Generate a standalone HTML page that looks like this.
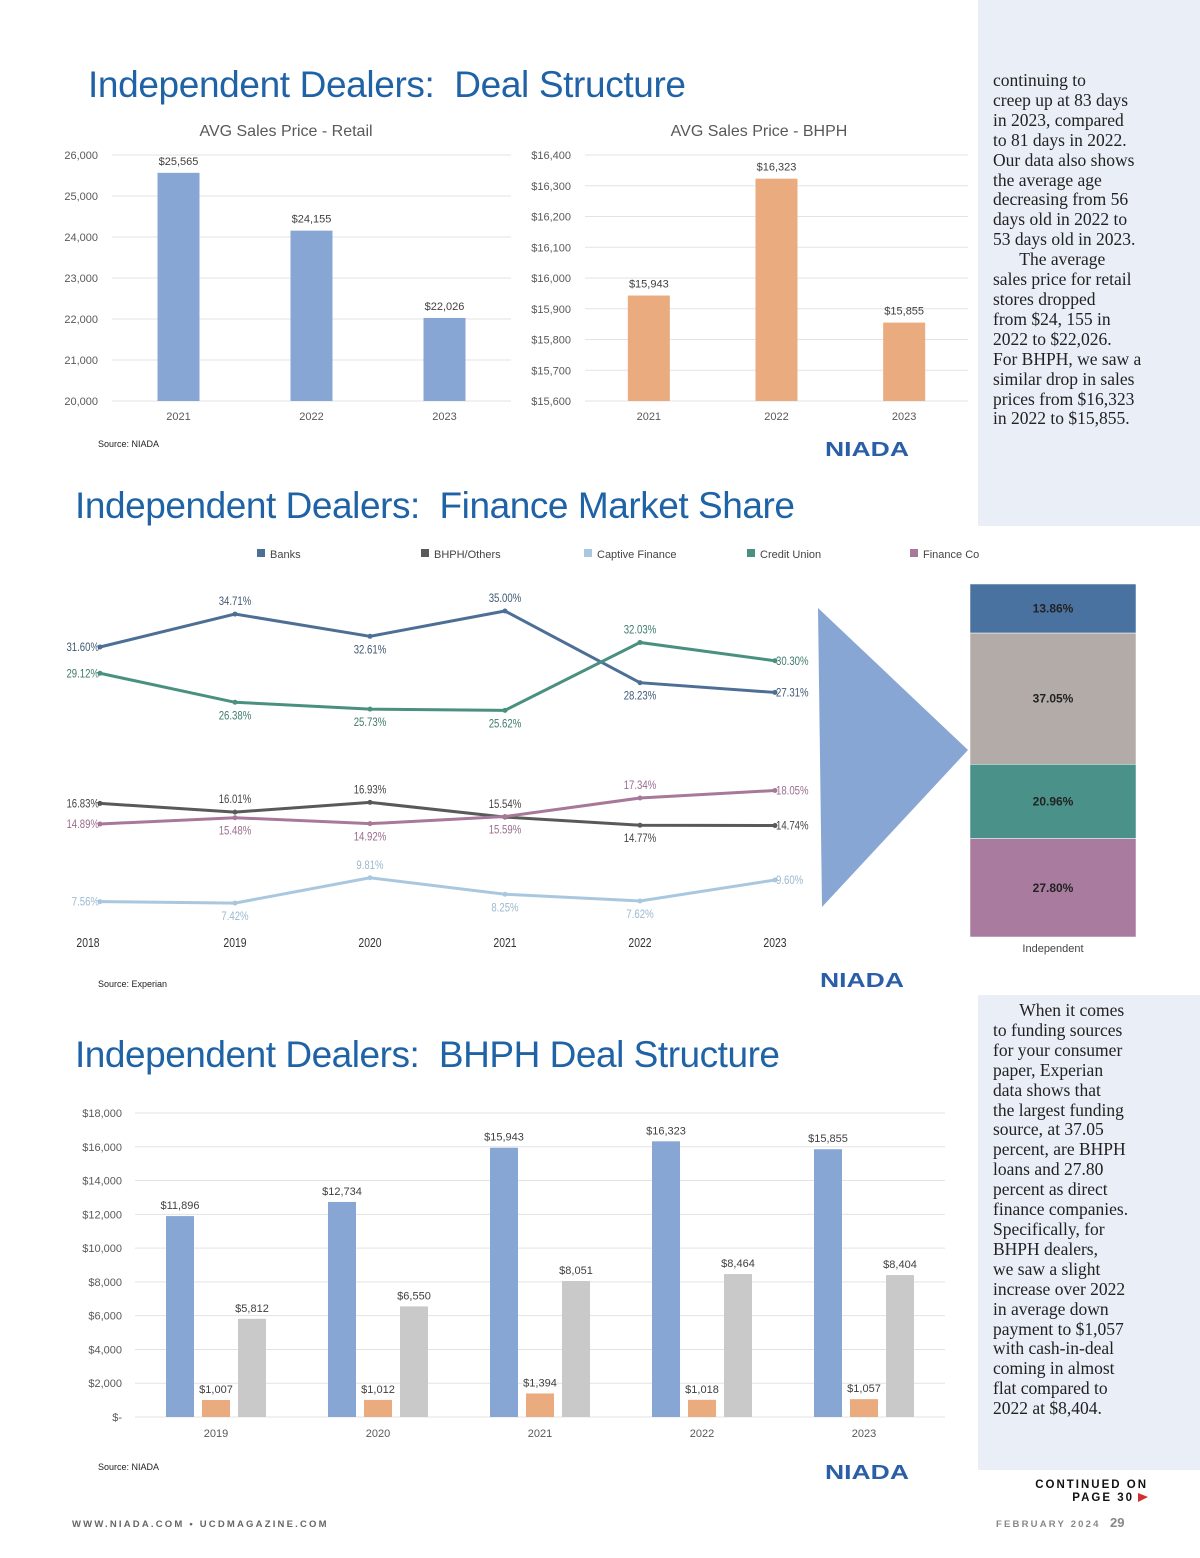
<!DOCTYPE html>
<html><head><meta charset="utf-8"><style>
body{margin:0;background:#fff;}
#page{position:relative;width:1200px;height:1558px;overflow:hidden;background:#fff;font-family:"Liberation Sans",sans-serif;}
.side{position:absolute;background:#e9eef7;}
.sidetext{position:absolute;font-family:"Liberation Serif",serif;font-size:17.5px;line-height:19.9px;color:#222;}
svg{position:absolute;left:0;top:0;}
</style></head><body>
<div id="page">
<div class="side" style="left:978px;top:0;width:222px;height:526px"></div>
<div class="side" style="left:978px;top:995px;width:222px;height:475px"></div>
<div class="sidetext" style="left:993px;top:71px;width:200px">continuing to<br>creep up at 83 days<br>in 2023, compared<br>to 81 days in 2022.<br>Our data also shows<br>the average age<br>decreasing from 56<br>days old in 2022 to<br>53 days old in 2023.<br>&nbsp;&nbsp;&nbsp;&nbsp;&nbsp;&nbsp;The average<br>sales price for retail<br>stores dropped<br>from $24, 155 in<br>2022 to $22,026.<br>For BHPH, we saw a<br>similar drop in sales<br>prices from $16,323<br>in 2022 to $15,855.</div>
<div class="sidetext" style="left:993px;top:1001px;width:200px">&nbsp;&nbsp;&nbsp;&nbsp;&nbsp;&nbsp;When it comes<br>to funding sources<br>for your consumer<br>paper, Experian<br>data shows that<br>the largest funding<br>source, at 37.05<br>percent, are BHPH<br>loans and 27.80<br>percent as direct<br>finance companies.<br>Specifically, for<br>BHPH dealers,<br>we saw a slight<br>increase over 2022<br>in average down<br>payment to $1,057<br>with cash-in-deal<br>coming in almost<br>flat compared to<br>2022 at $8,404.</div>
<svg id="svg" width="1200" height="1558" xmlns="http://www.w3.org/2000/svg" font-family="Liberation Sans, sans-serif"></svg>
</div>
<script>
// ---- data ----
const retailYears=["2021","2022","2023"];
const retailValues=[25565,24155,22026];
const retailTicks=[20000,21000,22000,23000,24000,25000,26000];
const bhphYears=["2021","2022","2023"];
const bhphValues=[15943,16323,15855];
const bhphTicks=[15600,15700,15800,15900,16000,16100,16200,16300,16400];
const fmsYears=["2018","2019","2020","2021","2022","2023"];
const fmsBanks=[31.60,34.71,32.61,35.00,28.23,27.31];
const fmsCredit=[29.12,26.38,25.73,25.62,32.03,30.30];
const fmsBhph=[16.83,16.01,16.93,15.54,14.77,14.74];
const fmsFinance=[14.89,15.48,14.92,15.59,17.34,18.05];
const fmsCaptive=[7.56,7.42,9.81,8.25,7.62,9.60];
const stackLabels=["Banks","BHPH/Others","Credit Union","Finance Co"];
const stackValues=[13.86,37.05,20.96,27.80];
const dealYears=["2019","2020","2021","2022","2023"];
const dealPrice=[11896,12734,15943,16323,15855];
const dealDown=[1007,1012,1394,1018,1057];
const dealCash=[5812,6550,8051,8464,8404];
const dealTicks=[0,2000,4000,6000,8000,10000,12000,14000,16000,18000];

const svg=document.getElementById('svg');
const NS='http://www.w3.org/2000/svg';
function mk(tag,attrs,parent){const e=document.createElementNS(NS,tag);for(const k in attrs)e.setAttribute(k,attrs[k]);(parent||svg).appendChild(e);return e;}
function txt(x,y,s,size,fill,anchor,extra){const t=mk('text',Object.assign({x:x,y:y,'font-size':size,fill:fill,'text-anchor':anchor||'start'},extra||{}));t.textContent=s;return t;}
const money=v=>'$'+v.toLocaleString('en-US');

let t;
t=txt(88,97,"Independent Dealers:\u00a0 Deal Structure",37,"#1f63a6","start",{textLength:598});


t=txt(75,518,"Independent Dealers:\u00a0 Finance Market Share",37,"#1f63a6","start",{textLength:720});


t=txt(75,1067,"Independent Dealers:\u00a0 BHPH Deal Structure",37,"#1f63a6","start",{textLength:705});



function barChart(name,title,cats,vals,ticks,x0,x1,y0,y1,color,tickFmt,titleX){
  const g=mk('g',{});
  
  
  const min=ticks[0],max=ticks[ticks.length-1];
  const ys=v=>y1-(v-min)/(max-min)*(y1-y0);
  const step=(x1-x0)/cats.length;
  const xs=i=>x0+step*(i+0.5);
  const tt=txt(titleX,136,title,16,"#595959","middle");g.appendChild(tt);
  ticks.forEach(v=>{
    const l=mk('line',{x1:x0,x2:x1,y1:ys(v),y2:ys(v),stroke:'#e3e3e3','stroke-width':1},g);
    
    const lb=txt(x0-14,ys(v)+4,tickFmt(v),11,"#595959","end");g.appendChild(lb);
    
  });
  vals.forEach((v,i)=>{
    const r=mk('rect',{x:xs(i)-21,y:ys(v),width:42,height:y1-ys(v),fill:color},g);
    
    
    const vl=txt(xs(i),ys(v)-8,money(v),11,"#404040","middle");g.appendChild(vl);
    
    const xl=txt(xs(i),420,cats[i],11,"#595959","middle");g.appendChild(xl);
    
  });
}
barChart('retail-price-chart','AVG Sales Price - Retail',retailYears,retailValues,retailTicks,112,511,155,401,'#88a6d4',v=>v.toLocaleString('en-US'),286);
barChart('bhph-price-chart','AVG Sales Price - BHPH',bhphYears,bhphValues,bhphTicks,585,968,155,401,'#eaab7e',v=>money(v),759);

function logo(x,y,name){
  const l=txt(x,y,"NIADA",20,"#2a5fa8","start",{'font-weight':'bold',textLength:84,lengthAdjust:'spacingAndGlyphs'});
  
  
}
t=txt(98,447,"Source:  NIADA",9,"#222");

logo(825,456,'niada-logo-top');

const fx=i=>100+i*135;
const fy=v=>611+(35-v)*10.59;
const legend=[["Banks","#4d6f96",257],["BHPH/Others","#595959",421],["Captive Finance","#a9c8df",584],["Credit Union","#4a9080",747],["Finance Co","#a8789a",910]];
legend.forEach(l=>{
  const r=mk('rect',{x:l[2],y:549,width:8,height:8,fill:l[1]});
  
  const tx=txt(l[2]+13,558,l[0],11,"#444");
  
});
const series=[[fmsBanks,"#4d6f96","banks","#3f5875",[1,-1,1,-1,1,0]],[fmsCredit,"#4a9080","credit-union","#3e7a6c",[0,1,1,1,-1,0]],[fmsBhph,"#595959","bhph-others","#444",[0,-1,-1,-1,1,0]],[fmsFinance,"#a8789a","finance-co","#9a6d8e",[0,1,1,1,-1,0]],[fmsCaptive,"#a9c8df","captive-finance","#9bb9d0",[0,1,-1,1,1,0]]];
series.forEach(s=>{
  const pts=s[0].map((v,i)=>fx(i)+','+fy(v)).join(' ');
  const pl=mk('polyline',{points:pts,fill:'none',stroke:s[1],'stroke-width':3});
  
  
  s[0].forEach((v,i)=>{
    const c=mk('circle',{cx:fx(i),cy:fy(v),r:2.5,fill:s[1]});
    
    let lx=fx(i),ly=fy(v),anc='middle';
    if(i===0){lx=fx(i)-1;anc='end';ly+=4;}
    else if(i===5){lx=fx(i)+1;anc='start';ly+=4;}
    else ly+= s[4][i]<0? -9 : 17;
    const lb=txt(lx,ly,v.toFixed(2)+'%',12,s[3],anc,{transform:`translate(${lx},0) scale(0.8,1) translate(${-lx},0)`});
    
  });
});
fmsYears.forEach((y,i)=>{
  const xl=txt(fx(i)-(i===0?15:0),947,y,13,"#333","middle",{transform:`translate(${fx(i)},0) scale(0.8,1) translate(${-fx(i)},0)`});
  
});
const tri=mk('polygon',{points:'818,608 968,750 822,907',fill:'#88a6d4'});

const stackColors=["#4a72a0","#b3aba8","#4a9189","#a87b9f"];
const stTop=584,stBot=937,stTot=stackValues.reduce((a,b)=>a+b,0);
let acc=stTop;
stackValues.forEach((v,i)=>{
  const h=v/stTot*(stBot-stTop);
  const r=mk('rect',{x:970,y:acc,width:166,height:h,fill:stackColors[i],stroke:'#fff','stroke-width':0.5});
  
  
  const lb=txt(1053,acc+h/2+4,v.toFixed(2)+'%',12,"#222","middle",{'font-weight':'bold'});
  
  acc+=h;
});
t=txt(1053,952,"Independent",11,"#444","middle");

t=txt(98,987,"Source:  Experian",9,"#222");

logo(820,987,'niada-logo-middle');

const dY0=1113,dY1=1417,dMax=18000;
const dy=v=>dY1-v/dMax*(dY1-dY0);
const dx=i=>216+i*162;
dealTicks.forEach(v=>{
  const l=mk('line',{x1:135,x2:945,y1:dy(v),y2:dy(v),stroke:'#e3e3e3'});
  
  const lb=txt(122,dy(v)+4,v===0?'$-':money(v),11,"#595959","end");
  
});
const groups=[[dealPrice,'#88a6d4',-36,'price'],[dealDown,'#eaab7e',0,'down-payment'],[dealCash,'#c9c9c9',36,'cash-in-deal']];
dealYears.forEach((y,i)=>{
  groups.forEach(g=>{
    const v=g[0][i],cx=dx(i)+g[2];
    const r=mk('rect',{x:cx-14,y:dy(v),width:28,height:dY1-dy(v),fill:g[1]});
    
    
    const lb=txt(cx,dy(v)-7,money(v),11,"#404040","middle");
    
  });
  const xl=txt(dx(i),1437,y,11,"#595959","middle");
  
});
t=txt(98,1470,"Source:  NIADA",9,"#222");

logo(825,1479,'niada-logo-bottom');

t=txt(1148,1488,"CONTINUED ON",11.5,"#111","end",{'font-weight':'bold','letter-spacing':'2'});

t=txt(1134,1501,"PAGE 30",11.5,"#111","end",{'font-weight':'bold','letter-spacing':'2'});

t=mk('polygon',{points:'1138,1493 1148,1497 1138,1502',fill:'#d32f2f'});

t=txt(72,1527,"WWW.NIADA.COM • UCDMAGAZINE.COM",9.5,"#666","start",{'letter-spacing':'2.2','font-weight':'bold'});

t=txt(996,1527,"FEBRUARY 2024",9.5,"#888","start",{'letter-spacing':'2.2','font-weight':'bold'});

t=txt(1110,1527,"29",13,"#888","start",{'font-weight':'bold'});

</script>
</body></html>
